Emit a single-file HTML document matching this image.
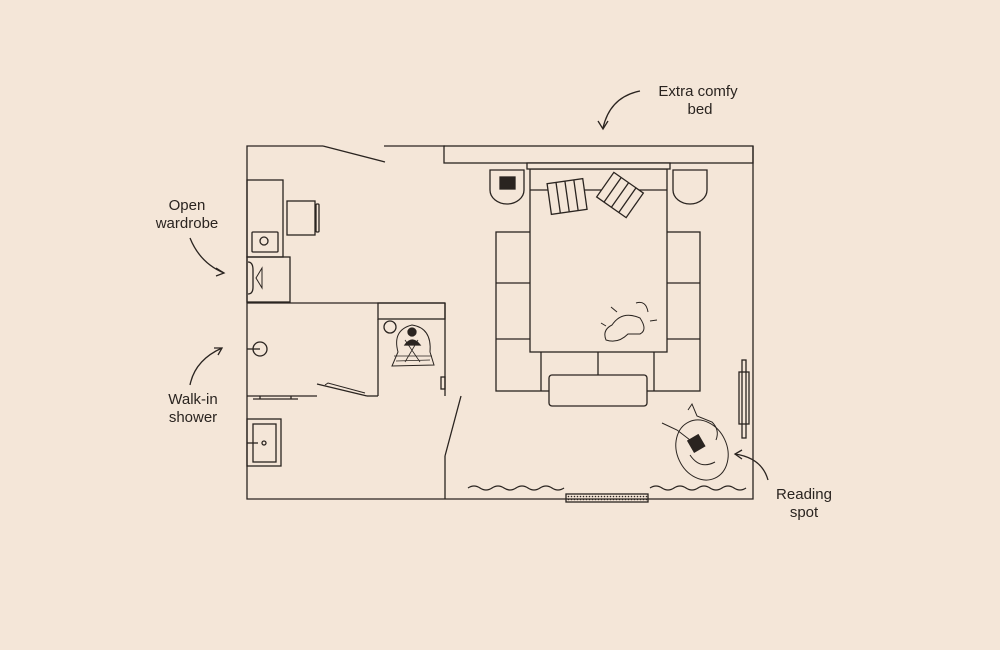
<!DOCTYPE html>
<html><head><meta charset="utf-8"><style>
html,body{margin:0;padding:0;background:#f4e6d8;}
svg{display:block}
text{font-family:"Liberation Sans",sans-serif;font-size:15px;fill:#2a2420;}
</style></head><body>
<svg width="1000" height="650" viewBox="0 0 1000 650" xmlns="http://www.w3.org/2000/svg">
<rect width="1000" height="650" fill="#f4e6d8"/>
<defs>
<pattern id="dots" width="3" height="3" patternUnits="userSpaceOnUse"><circle cx="1.5" cy="1.5" r="0.8" fill="#2a2420"/></pattern>
</defs>
<g fill="none" stroke="#2a2420" stroke-width="1.3">
<polyline points="323,146 247,146 247,499 753,499 753,146"/>
<line x1="323" y1="146" x2="385" y2="162"/>
<line x1="384" y1="146" x2="445" y2="146"/>
<rect x="444" y="146" width="309" height="17"/>
<rect x="247" y="180" width="36" height="77"/>
<rect x="287" y="201" width="28" height="34"/>
<rect x="316" y="204" width="3" height="28" rx="1"/>
<rect x="252" y="232" width="26" height="20" rx="1"/>
<circle cx="264" cy="241" r="4"/>
<rect x="247" y="257" width="43" height="45"/>
<path d="M248,262 Q253,262 253,270 L253,287 Q253,294 248,294"/>
<path d="M262,268 L256,278 L262,288 Z" stroke-width="1"/>
<line x1="247" y1="303" x2="445" y2="303"/>
<rect x="378" y="303" width="67" height="16"/>
<line x1="378" y1="319" x2="378" y2="396"/>
<line x1="445" y1="303" x2="445" y2="396"/>
<line x1="317" y1="384" x2="367" y2="396"/>
<path d="M325,385 L328,383 L365,393" stroke-width="1"/>
<line x1="367" y1="396" x2="378" y2="396"/>
<line x1="247" y1="396" x2="317" y2="396"/>
<line x1="253" y1="399" x2="298" y2="399"/>
<line x1="260" y1="396" x2="260" y2="399"/><line x1="291" y1="396" x2="291" y2="399"/>
<circle cx="260" cy="349" r="7"/>
<line x1="247" y1="349" x2="260" y2="349"/>
<rect x="441" y="377" width="4" height="12"/>
<line x1="461" y1="396" x2="445" y2="456"/>
<line x1="445" y1="456" x2="445" y2="499"/>
<rect x="247" y="419" width="34" height="47"/>
<rect x="253" y="424" width="23" height="38"/>
<line x1="247" y1="443" x2="258" y2="443"/>
<circle cx="264" cy="443" r="2"/>
<circle cx="390" cy="327" r="6"/>
<path d="M398,352 Q392,330 412,325 Q432,328 430,352 L434,365 L392,366 Z" stroke-width="1"/>
<path d="M394,356 L432,356 M396,361 L430,360 M405,340 L420,362 M418,340 L405,362" stroke-width="0.8"/>
<circle cx="412" cy="332" r="4" fill="#2a2420"/>
<path d="M405,345 Q412,335 420,345 Z" fill="#2a2420"/>
<rect x="496" y="232" width="204" height="159"/>
<line x1="496" y1="283" x2="700" y2="283"/>
<line x1="496" y1="339" x2="700" y2="339"/>
<line x1="541" y1="352" x2="541" y2="391"/>
<line x1="598" y1="352" x2="598" y2="391"/>
<line x1="654" y1="352" x2="654" y2="391"/>
<rect x="530" y="169" width="137" height="183" fill="#f4e6d8"/>
<rect x="527" y="163" width="143" height="6" fill="#f4e6d8"/>
<line x1="530" y1="190" x2="667" y2="190"/>
<rect x="549" y="375" width="98" height="31" rx="3" fill="#f4e6d8"/>
<g transform="rotate(-8 567 196)"><rect x="549" y="181" width="36" height="31" fill="#f4e6d8"/><line x1="558" y1="181" x2="558" y2="212"/><line x1="567" y1="181" x2="567" y2="212"/><line x1="576" y1="181" x2="576" y2="212"/></g>
<g transform="rotate(35 620 195)"><rect x="602" y="180" width="36" height="30" fill="#f4e6d8"/><line x1="611" y1="180" x2="611" y2="210"/><line x1="620" y1="180" x2="620" y2="210"/><line x1="629" y1="180" x2="629" y2="210"/></g>
<path d="M490,170 L524,170 L524,190 A17,14 0 0 1 490,190 Z"/>
<path d="M673,170 L707,170 L707,190 A17,14 0 0 1 673,190 Z"/>
<rect x="500" y="177" width="15" height="12" fill="#2a2420"/>
<path d="M606,340 Q602,330 612,325 Q622,310 640,318 Q648,330 640,334 L628,334 Q618,344 606,340 Z" stroke-width="1"/>
<path d="M636,303 Q646,300 648,312" stroke-width="1"/>
<path d="M611,307 L617,312 M601,323 L606,326 M650,321 L657,320" stroke-width="1"/>
<rect x="742" y="360" width="4" height="78"/>
<rect x="739" y="372" width="10" height="52"/>
<ellipse cx="702" cy="450" rx="25" ry="31" transform="rotate(-25 702 450)" stroke-width="1"/>
<path d="M688,410 L692,404 L697,416 L712,422 Q720,430 716,440 M662,423 L677,430 L690,440 M690,455 Q700,470 715,462" stroke-width="1"/>
<rect x="690" y="437" width="12" height="13" fill="#2a2420" transform="rotate(-30 696 443)"/>
<path d="M468,488 q6,-4 12,0 t12,0 t12,0 t12,0 t12,0 t12,0 t12,0 t12,0"/>
<path d="M650,488 q6,-4 12,0 t12,0 t12,0 t12,0 t12,0 t12,0 t12,0 t12,0"/>
<rect x="566" y="494" width="82" height="8" fill="url(#dots)"/>
<path d="M640,91 Q610,97 603,128"/>
<path d="M598,121 L603,129 L608,121"/>
<path d="M190,238 Q200,263 224,273"/>
<path d="M216,268 L224,273 L216,276"/>
<path d="M190,385 Q195,360 222,348"/>
<path d="M214,348 L222,348 L218,355"/>
<path d="M768,480 Q762,458 735,454"/>
<path d="M742,450 L735,454 L742,459"/>
</g>
<text x="698" y="96" text-anchor="middle">Extra comfy</text>
<text x="700" y="114" text-anchor="middle">bed</text>
<text x="187" y="210" text-anchor="middle">Open</text>
<text x="187" y="228" text-anchor="middle">wardrobe</text>
<text x="193" y="404" text-anchor="middle">Walk-in</text>
<text x="193" y="422" text-anchor="middle">shower</text>
<text x="804" y="499" text-anchor="middle">Reading</text>
<text x="804" y="517" text-anchor="middle">spot</text>
</svg>
</body></html>
